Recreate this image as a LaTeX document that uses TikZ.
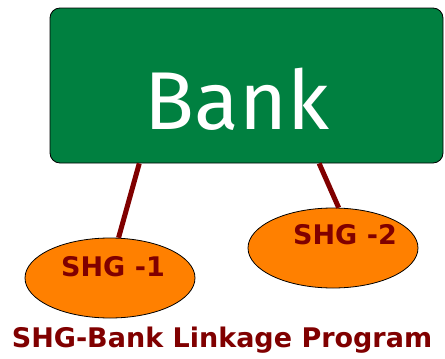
\documentclass[tikz,border=0pt]{standalone}
\usepackage{fontspec}
\setmainfont{Fira Sans}
\newfontfamily\shgfont{DejaVu Sans}
\usetikzlibrary{shapes.geometric}
\definecolor{bankgreen}{RGB}{0,128,64}
\definecolor{shgorange}{RGB}{255,128,0}
\definecolor{linkred}{RGB}{128,0,0}
\tikzset{
  bankbox/.style={draw=black,fill=bankgreen,rounded corners=10pt,minimum width=393pt,minimum height=155pt,inner sep=0pt,line width=0.8pt},
  shgoval/.style={draw=black,fill=shgorange,ellipse,minimum width=170pt,minimum height=80pt,inner sep=0pt,line width=0.8pt},
  shgtext/.style={text=linkred,font=\shgfont\fontsize{27}{30}\selectfont\bfseries,inner sep=0pt},
  link/.style={draw=linkred,line width=5pt}
}
\begin{document}
\begin{tikzpicture}[x=1pt,y=1pt,yscale=-1]
\useasboundingbox (0,0) rectangle (445,359);
\node [bankbox] (bank) at (246.5,85.5) {};
\node [text=white,font=\fontsize{82}{90}\selectfont] (banktext) at (237,99) {Bank};
\node [shgoval] (shg1) at (110,278) {};
\node [shgoval] (shg2) at (333,248) {};
\node [shgtext] (shg1text) at (113,267) {SHG -1};
\node [shgtext] (shg2text) at (345,235) {SHG -2};
\draw [link] (bank.216.4) -- (shg1.78);
\draw [link] (bank.-47) -- (shg2.82);
\node [shgtext] (title) at (222,340) {SHG-Bank Linkage Program};
\end{tikzpicture}
\end{document}
